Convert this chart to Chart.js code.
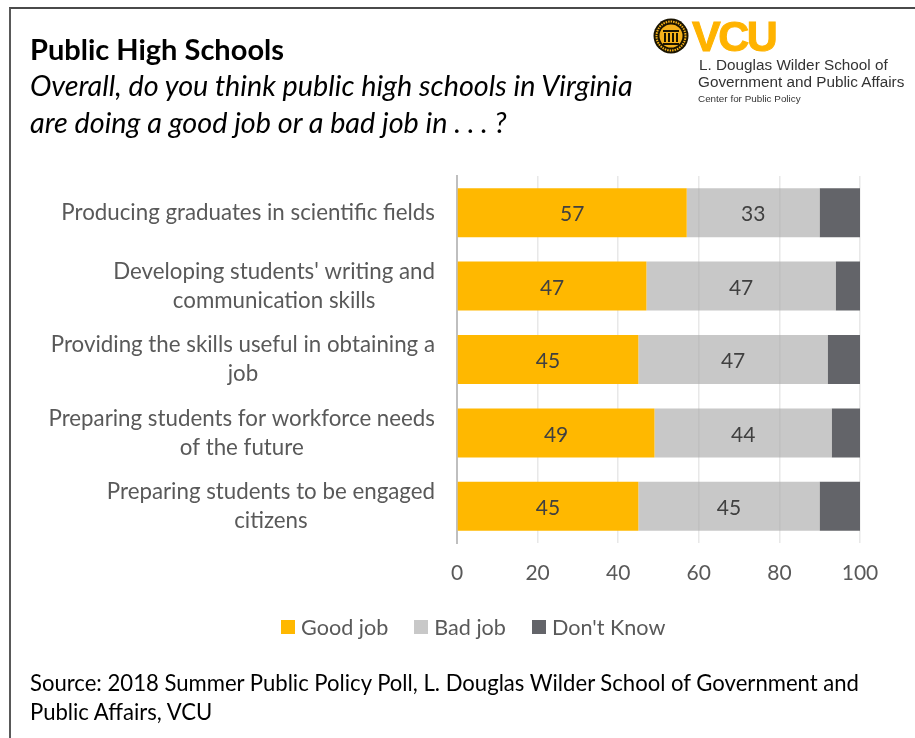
<!DOCTYPE html>
<html>
<head>
<meta charset="utf-8">
<title>Public High Schools</title>
<script src="https://cdn.jsdelivr.net/npm/chart.js@4/dist/chart.umd.min.js"></script>
<style>
html,body{margin:0;padding:0;background:#fff;}
#page{position:relative;width:915px;height:738px;overflow:hidden;font-family:Lato,sans-serif;color:#000;}
#frame{position:absolute;left:9px;top:7px;width:920px;height:800px;border-left:2px solid #595959;border-top:2px solid #4a4a4a;box-sizing:border-box;}
#chartBox{position:absolute;left:0;top:0;width:915px;height:738px;}
.txt{position:absolute;white-space:nowrap;}
#heading{left:30px;top:32px;font-size:29px;font-weight:700;line-height:34px;}
#question{left:30px;top:67px;font-size:28.8px;font-style:italic;line-height:36.5px;}
#source{left:30px;top:668px;font-size:22.1px;line-height:29px;}
#legend{position:absolute;left:281px;top:614px;height:26px;display:flex;align-items:center;gap:26px;font-size:21.6px;line-height:26px;color:#595959;}
.legendItem{display:flex;align-items:center;gap:6px;}
.legendBox{width:14px;height:14px;}
#logoMark{position:absolute;left:653px;top:18px;}
#logoWord{left:692px;top:11px;font-family:"Liberation Sans",sans-serif;font-weight:700;font-size:43px;letter-spacing:-2.5px;line-height:50px;color:#ffb300;-webkit-text-stroke:1px #ffb300;}
.logoLine{font-family:"Liberation Sans",sans-serif;color:#333;}
</style>
</head>
<body>
<div id="page">
  <div id="frame"></div>
  <div id="chartBox"><canvas id="barChart" width="915" height="738"></canvas></div>
  <div class="txt" id="heading">Public High Schools</div>
  <div class="txt" id="question">Overall, do you think public high schools in Virginia<br>are doing a good job or a bad job in . . . ?</div>
  <svg id="logoMark" width="36" height="36" viewBox="0 0 36 36">
    <circle cx="18" cy="18" r="17.5" fill="#1a1400"/>
    <circle cx="18" cy="18" r="14.5" fill="none" stroke="#f5b21a" stroke-width="2" stroke-dasharray="1.5 1"/>
    <circle cx="18" cy="18" r="11.5" fill="#f5b21a"/>
    <path d="M10 12h16v2H10zM11 15h2v9h-2zM15 15h2v9h-2zM19 15h2v9h-2zM23 15h2v9h-2zM10 25h16v2H10z" fill="#1a1400"/>
  </svg>
  <div class="txt" id="logoWord">VCU</div>
  <div class="txt logoLine" style="left:699px;top:56px;font-size:15.3px;line-height:17px;">L. Douglas Wilder School of</div>
  <div class="txt logoLine" style="left:698px;top:73px;font-size:15.3px;line-height:17px;">Government and Public Affairs</div>
  <div class="txt logoLine" style="left:698px;top:92px;font-size:9.9px;line-height:13px;">Center for Public Policy</div>
  <div id="legend"></div>
  <div class="txt" id="source">Source: 2018 Summer Public Policy Poll, L. Douglas Wilder School of Government and<br>Public Affairs, VCU</div>
</div>
<script>
// survey items, top to bottom
const categories = [
  ["Producing graduates in scientific fields"],
  ["Developing students' writing and", "communication skills"],
  ["Providing the skills useful in obtaining a", "job"],
  ["Preparing students for workforce needs", "of the future"],
  ["Preparing students to be engaged", "citizens"]
];
const goodJob = [57, 47, 45, 49, 45];
const badJob = [33, 47, 47, 44, 45];
const dontKnow = [10, 6, 8, 7, 10];
const axisTicks = [0, 20, 40, 60, 80, 100];

// writes the percentage inside the good/bad segments
const segmentLabels = {
  id: "segmentLabels",
  afterDatasetsDraw(chart){
    const ctx = chart.ctx;
    ctx.save();
    ctx.font = "21px Lato";
    ctx.fillStyle = "#404040";
    ctx.textAlign = "center";
    ctx.textBaseline = "middle";
    [0, 1].forEach(i => {
      chart.getDatasetMeta(i).data.forEach((bar, j) => {
        const center = bar.getCenterPoint();
        ctx.fillText(chart.data.datasets[i].data[j], center.x, center.y + 2);
      });
    });
    ctx.restore();
  }
};

// category labels: the block sits against the axis, its lines centred on each other
const centredCategoryLabels = {
  id: "centredCategoryLabels",
  afterDraw(chart){
    const ctx = chart.ctx;
    const yScale = chart.scales.y;
    const lineHeight = 29;
    ctx.save();
    ctx.font = "22.3px Lato";
    ctx.fillStyle = "#595959";
    ctx.textAlign = "center";
    ctx.textBaseline = "middle";
    categories.forEach((lines, i) => {
      const widest = Math.max(...lines.map(l => ctx.measureText(l).width));
      const x = yScale.right - 22 - widest / 2;
      const top = yScale.getPixelForTick(i) - (lines.length - 1) * lineHeight / 2;
      lines.forEach((line, n) => ctx.fillText(line, x, top + n * lineHeight));
    });
    ctx.restore();
  }
};

// legend as plain html, built from the datasets
function buildLegend(chart){
  const box = document.getElementById("legend");
  chart.data.datasets.forEach(ds => {
    const item = document.createElement("div");
    item.className = "legendItem";
    const swatch = document.createElement("div");
    swatch.className = "legendBox";
    swatch.style.background = ds.legendColor || ds.backgroundColor;
    const text = document.createElement("span");
    text.textContent = ds.label;
    item.append(swatch, text);
    box.append(item);
  });
}

document.addEventListener("DOMContentLoaded", () => {
  const ctx = document.getElementById("barChart").getContext("2d");
  Chart.defaults.font.family = "Lato";

  const chart = new Chart(ctx, {
    type: "bar",
    data: {
      labels: categories,
      datasets: [
        {label: "Good job", data: goodJob, backgroundColor: "#ffb800"},
        {label: "Bad job", data: badJob, backgroundColor: "rgba(171,171,171,0.65)", legendColor: "#c8c8c8"},
        {label: "Don't Know", data: dontKnow, backgroundColor: "#636469"}
      ]
    },
    options: {
      indexAxis: "y",
      responsive: false,
      animation: false,
      categoryPercentage: 1,
      barPercentage: 0.667,
      layout: {padding: {left: 0, right: 55, top: 176, bottom: 150}},
      scales: {
        x: {
          stacked: true,
          min: 0,
          max: 100,
          afterBuildTicks: axis => { axis.ticks = axisTicks.map(v => ({value: v})); },
          afterFit: axis => { axis.height = 45; },
          grid: {color: "#e8e8e8", lineWidth: 1.5, drawTicks: false},
          border: {display: false},
          ticks: {color: "#595959", font: {size: 21}, padding: 18, maxRotation: 0}
        },
        y: {
          stacked: true,
          afterFit: axis => { axis.width = 457; },
          grid: {display: false, drawTicks: false},
          border: {color: "#bfbfbf", width: 2},
          ticks: {display: false}
        }
      },
      plugins: {
        title: {display: false},
        tooltip: {enabled: false},
        legend: {display: false}
      }
    },
    plugins: [segmentLabels, centredCategoryLabels]
  });
  buildLegend(chart);
});
</script>
</body>
</html>
